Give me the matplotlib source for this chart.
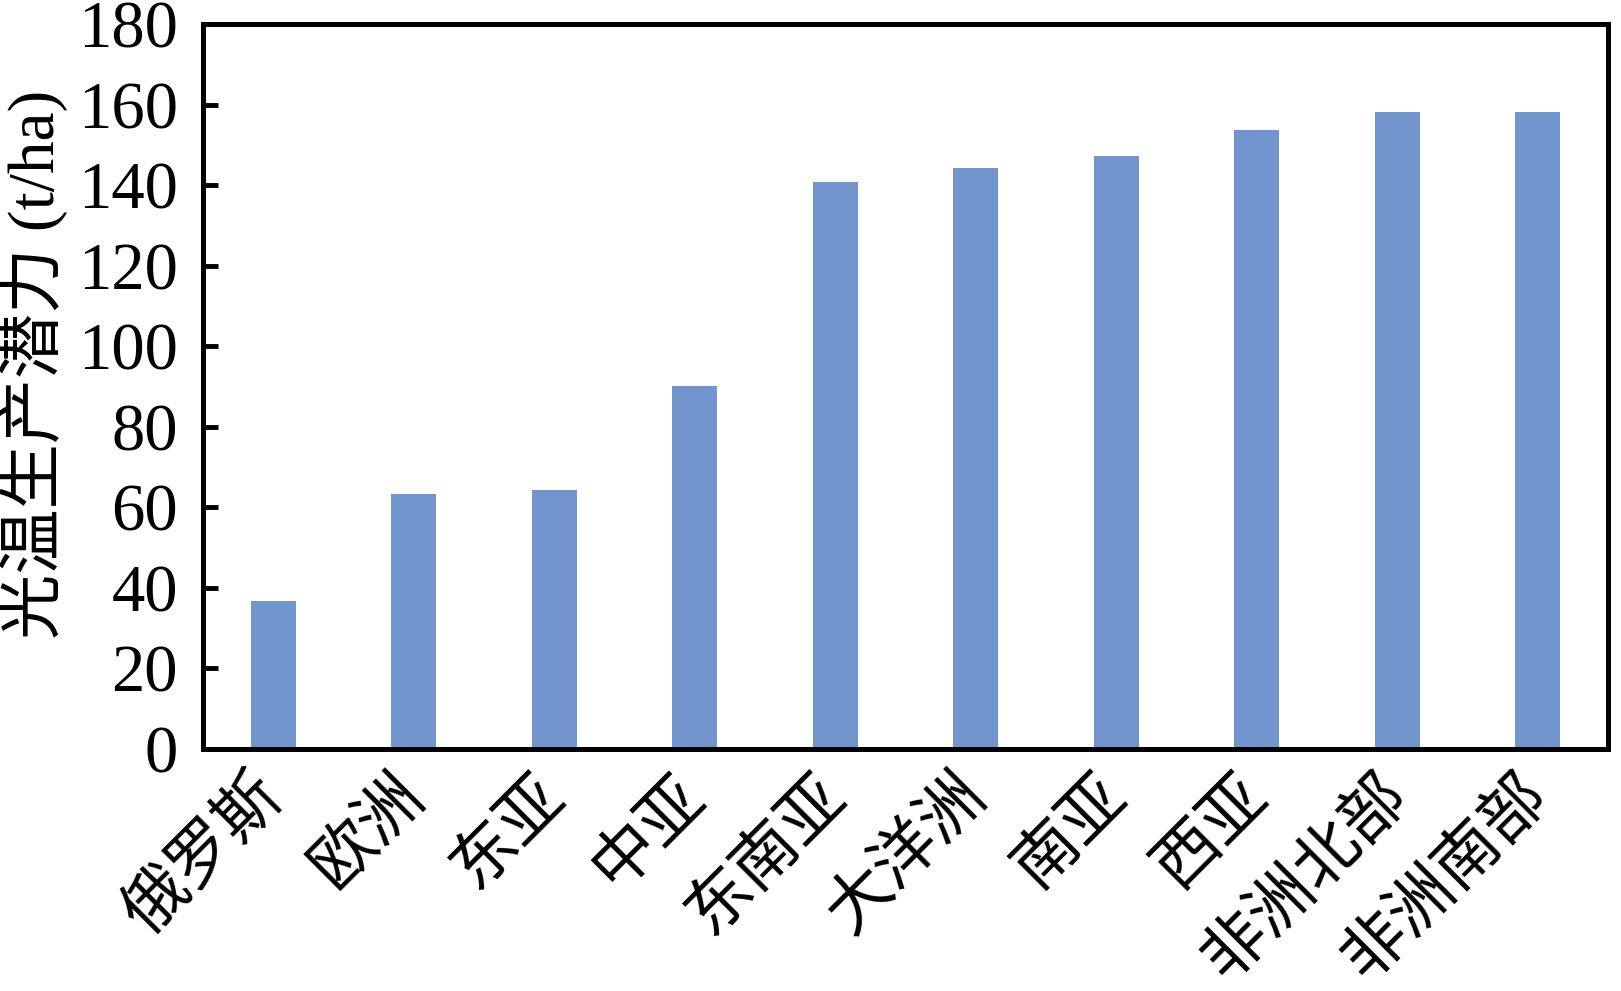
import matplotlib
matplotlib.use("Agg")
import matplotlib.pyplot as plt

# Dados
regioes = ['俄罗斯', '欧洲', '东亚', '中亚', '东南亚', '大洋洲', '南亚', '西亚', '非洲北部', '非洲南部']
potencial = [36.7, 63.2, 64.2, 90.1, 140.8, 144.3, 147.3, 153.7, 158.2, 158.2]
yticks = [0, 20, 40, 60, 80, 100, 120, 140, 160, 180]

fonte = ['Liberation Serif', 'Noto Sans CJK SC']
plt.rcParams['font.family'] = fonte

fig = plt.figure(figsize=(16.21, 9.91), dpi=100)
ax = fig.add_axes([0.1252, 0.2442, 0.8668, 0.7316])

x = list(range(len(regioes)))
ax.bar(x, potencial, width=0.32, color='#7395CE')

ax.set_xlim(-0.5, len(regioes) - 0.5)
ax.set_ylim(0, 180)
ax.set_yticks(yticks)
ax.set_yticklabels([str(v) for v in yticks], fontsize=48)
ax.set_xticks(x)
ax.set_xticklabels(regioes, fontsize=47, rotation=45, ha='right', va='center',
                   rotation_mode='anchor', family=['Noto Sans CJK SC'])

ax.tick_params(axis='y', direction='in', length=11, width=3.5, pad=18)
ax.tick_params(axis='x', length=0, pad=26)

for s in ax.spines.values():
    s.set_linewidth(3.6)

ax.set_ylabel('光温生产潜力 (t/ha)', fontsize=47)
ax.yaxis.set_label_coords(-0.096, 0.53)

fig.savefig('out.png', dpi=100)
plt.close(fig)
